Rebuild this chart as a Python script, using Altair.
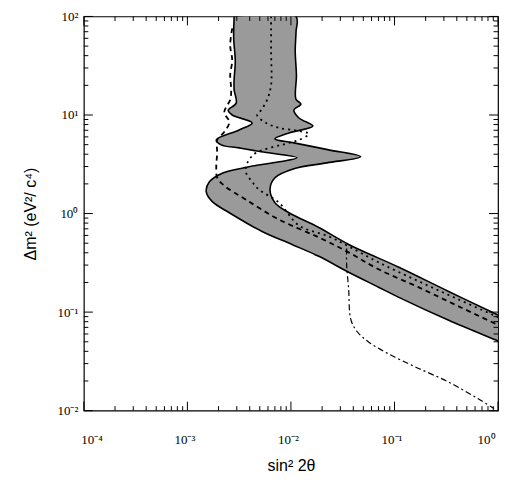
import altair as alt
import pandas as pd

# ---------------- data ----------------
# Allowed region (closed outline): left edge top->bottom, then right edge bottom->top
# (the two points past sin^2 2theta = 1 only carry the band beyond the frame, where it is clipped)
band_sin2 = [0.00283, 0.00280, 0.00290, 0.00282, 0.00283, 0.00296, 0.00248, 0.00271,
             0.00422, 0.00316, 0.00190, 0.00212, 0.00316, 0.00515, 0.01143, 0.00767,
             0.00353, 0.00212, 0.00163, 0.00152, 0.00174, 0.00254, 0.00526, 0.01023,
             0.01858, 0.0361, 0.0702, 0.109, 0.330, 1.0, 1.5,
             1.5, 1.0, 0.330, 0.109, 0.0361, 0.01858, 0.00957, 0.00701, 0.00628,
             0.00701, 0.01069, 0.0222, 0.0471, 0.0232, 0.01069, 0.00701, 0.00957,
             0.0163, 0.01194, 0.01069, 0.01247, 0.01117, 0.01130, 0.01100, 0.01120,
             0.01117, 0.00283]
band_dm2 = [100, 60, 35, 22, 17.9, 13.2, 11.2, 10.0,
            8.30, 7.05, 5.58, 4.98, 4.64, 4.23, 3.68, 3.35,
            2.92, 2.54, 2.10, 1.67, 1.32, 1.02, 0.658, 0.486,
            0.368, 0.254, 0.179, 0.142, 0.0830, 0.0509, 0.0426,
            0.0762, 0.0933, 0.163, 0.287, 0.486, 0.723, 1.02, 1.29, 1.75,
            2.31, 2.85, 3.27, 3.77, 4.43, 5.21, 5.73, 6.58,
            7.74, 9.33, 11.2, 12.9, 14.5, 25, 45, 70,
            100, 100]

# dashed curve
dash_sin2 = [0.00271, 0.00259, 0.00271, 0.00259, 0.00265, 0.00259, 0.00237, 0.00227,
             0.00254, 0.00227, 0.00194, 0.00194, 0.00190, 0.00194, 0.00227, 0.00369,
             0.00767, 0.01858, 0.0361, 0.0702, 0.170, 0.412, 1.0]
dash_dm2 = [75.7, 50.9, 35.9, 25.4, 17.9, 14.2, 12.1, 10.5,
            8.49, 6.73, 5.58, 4.13, 2.99, 2.31, 1.92, 1.38,
            0.869, 0.573, 0.404, 0.272, 0.179, 0.115, 0.0740]

# dotted curve
dot_sin2 = [0.00643, 0.00643, 0.00643, 0.00588, 0.00515, 0.00471, 0.00575, 0.00767,
            0.01194, 0.01490, 0.01194, 0.00957, 0.00460, 0.00394, 0.00369, 0.00369,
            0.00422, 0.00492, 0.00767, 0.01194, 0.0232, 0.0361, 0.0702, 0.170, 0.412, 1.0]
dot_dm2 = [100, 45.4, 20.1, 14.2, 11.2, 10.0, 8.30, 7.40,
           6.89, 6.42, 5.58, 5.21, 4.13, 3.51, 2.99, 2.59,
           2.10, 1.75, 1.29, 0.757, 0.586, 0.464, 0.320, 0.206, 0.135, 0.0889]

# dash-dot curve
dd_sin2 = [0.0345, 0.0345, 0.0361, 0.0378, 0.0431, 0.0562, 0.0875, 0.159, 0.330, 0.643, 0.916]
dd_dm2 = [0.443, 0.305, 0.171, 0.0849, 0.0643, 0.0498, 0.0377, 0.0278, 0.0196, 0.0132, 0.0105]

# axes
x_major = [1e-4, 1e-3, 1e-2, 1e-1, 1.0]
x_labels = ["10\u207b\u2074", "10\u207b\u00b3", "10\u207b\u00b2", "10\u207b\u00b9", "10\u2070"]
y_major = [1e-2, 1e-1, 1.0, 1e1, 1e2]
y_labels = ["10\u207b\u00b2", "10\u207b\u00b9", "10\u2070", "10\u00b9", "10\u00b2"]
minor_mult = [2, 3, 4, 5, 6, 7, 8, 9]

W, H = 415, 395
MAJ, MIN = 9, 4.5

x_minor = [m * d for d in x_major[:-1] for m in minor_mult]
y_minor = [m * d for d in y_major[:-1] for m in minor_mult]

xscale = alt.Scale(type="log", domain=[1e-4, 1.0], nice=False)
yscale = alt.Scale(type="log", domain=[1e-2, 1e2], nice=False)

xlab = "[" + ",".join("'%s'" % s for s in x_labels) + "]"
ylab = "[" + ",".join("'%s'" % s for s in y_labels) + "]"

xaxis = alt.Axis(values=x_major, labelExpr=xlab + "[round(log(datum.value)/LN10)+4]",
                 ticks=False, tickSize=0, domain=False, grid=False,
                 labelFont="Liberation Serif", labelFontSize=13, labelPadding=23,
                 labelOffset=-3,
                 labelColor="black", title="sin\u00b2 2\u03b8", titleFont="Liberation Sans",
                 titleFontSize=16, titleFontWeight="normal", titleColor="black", titlePadding=11)
yaxis = alt.Axis(values=y_major, labelExpr=ylab + "[round(log(datum.value)/LN10)+2]",
                 ticks=False, tickSize=0, domain=False, grid=False,
                 labelFont="Liberation Serif", labelFontSize=13, labelPadding=6,
                 labelColor="black", title="\u0394m\u00b2 (eV\u00b2/ c\u2074)", titleFont="Liberation Sans",
                 titleFontSize=16, titleFontWeight="normal", titleColor="black", titlePadding=19)


def X(f):
    return alt.X(f, type="quantitative", scale=xscale, axis=xaxis)


def Y(f):
    return alt.Y(f, type="quantitative", scale=yscale, axis=yaxis)


band_df = pd.DataFrame({"s": band_sin2, "m": band_dm2, "i": range(len(band_sin2))})
band = alt.Chart(band_df).mark_line(
    fill="#9a9a9a", stroke="black", strokeWidth=1.6, clip=True, interpolate="catmull-rom"
).encode(x=X("s"), y=Y("m"), order="i:Q")


def curve(xs, ys, dash, width):
    df = pd.DataFrame({"s": xs, "m": ys, "i": range(len(xs))})
    return alt.Chart(df).mark_line(
        color="black", strokeWidth=width, strokeDash=dash, clip=True,
        interpolate="catmull-rom"
    ).encode(x=X("s"), y=Y("m"), order="i:Q")


dashed = curve(dash_sin2, dash_dm2, [5, 4], 1.8)
dotted = curve(dot_sin2, dot_dm2, [2, 4], 1.8)
dashdot = curve(dd_sin2, dd_dm2, [6, 3, 2, 3], 1.2)


def xticks(vals, length):
    df = pd.DataFrame({"s": vals})
    bottom = alt.Chart(df).mark_rule(color="black", strokeWidth=1).encode(
        x=X("s"), y=alt.value(H), y2=alt.value(H - length))
    top = alt.Chart(df).mark_rule(color="black", strokeWidth=1).encode(
        x=X("s"), y=alt.value(0), y2=alt.value(length))
    return [bottom, top]


def yticks(vals, length):
    df = pd.DataFrame({"m": vals})
    left = alt.Chart(df).mark_rule(color="black", strokeWidth=1).encode(
        y=Y("m"), x=alt.value(0), x2=alt.value(length))
    right = alt.Chart(df).mark_rule(color="black", strokeWidth=1).encode(
        y=Y("m"), x=alt.value(W), x2=alt.value(W - length))
    return [left, right]


layers = [band, dashed, dotted, dashdot]
layers += xticks(x_major, MAJ) + xticks(x_minor, MIN)
layers += yticks(y_major, MAJ) + yticks(y_minor, MIN)

chart = alt.layer(*layers).properties(
    width=W, height=H,
    autosize="none",
    padding={"left": 76, "top": 8, "right": 10, "bottom": 62},
    background="white",
).configure_view(stroke="black", strokeWidth=1.2)

chart.save("out.html", embed_options={"renderer": "svg", "actions": False})
